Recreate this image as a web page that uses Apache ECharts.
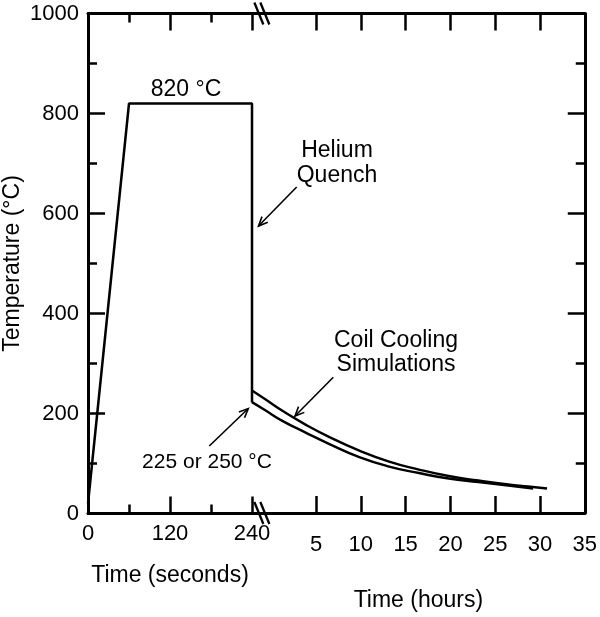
<!DOCTYPE html>
<html><head><meta charset="utf-8">
<script src="https://cdn.jsdelivr.net/npm/echarts@6/dist/echarts.min.js"></script>
<style>html,body{margin:0;padding:0;background:#fff}#c{width:600px;height:617px}</style>
</head><body><div id="c"></div>
<script>
// ---- data ----
const secondsTicks = [0, 120, 240];
const hourTicks = [5, 10, 15, 20, 25, 30, 35];
const tempTicks = [0, 200, 400, 600, 800, 1000];
const heatSeconds = [0, 60, 240, 240];
const heatTemp = [20, 820, 820, 222];
const coilHighHours = [-2.15, -0.71, 1.29, 3.73, 6.50, 9.83, 13.16, 16.48, 19.81, 23.13, 26.46, 28.67, 30.79];
const coilHighTemp  = [245,   228,   204,  178,  152,  125,  103,   87,    74,    65,    57,    53,    49];
const coilLowHours  = [-2.15, -0.71, 1.29, 3.73, 6.50, 9.83, 13.16, 16.48, 19.81, 23.13, 26.46, 29.23];
const coilLowTemp   = [222,   206,   184,  162,  138,  112,   93,    80,    69,    62,    55,    49];

const FONT = '"Liberation Sans", Arial, sans-serif';
const black = '#000';
const zip = (a, b) => a.map((v, i) => [v, b[i]]);

const chart = echarts.init(document.getElementById('c'), null, {renderer: 'canvas'});

const lineStyle = {color: black, width: 3};
const tickStyle = {color: black, width: 2.5};
const lbl = {fontSize: 22, color: black, fontFamily: FONT, formatter: v => String(v)};

function secAxis(pos, showLabel) {
  return {
    type: 'value', gridIndex: 0, position: pos,
    min: secondsTicks[0], max: secondsTicks[secondsTicks.length - 1], interval: 120,
    axisLine: {show: true, onZero: false, lineStyle},
    axisTick: {show: true, inside: true, length: 17, lineStyle: tickStyle},
    minorTick: {show: true, splitNumber: 2, length: 9, lineStyle: tickStyle},
    splitLine: {show: false}, minorSplitLine: {show: false},
    axisLabel: Object.assign({show: showLabel, margin: 9}, lbl)
  };
}
function hourAxis(pos, showLabel) {
  return {
    type: 'value', gridIndex: 1, position: pos, min: -2.15, max: 35,
    axisLine: {show: true, onZero: false, lineStyle},
    axisTick: {show: true, inside: true, length: 17, lineStyle: tickStyle, customValues: hourTicks},
    splitLine: {show: false},
    axisLabel: Object.assign({show: showLabel, margin: 21, customValues: hourTicks}, lbl)
  };
}
function tempAxis(grid, pos, showLabel) {
  return {
    type: 'value', gridIndex: grid, position: pos,
    min: tempTicks[0], max: tempTicks[tempTicks.length - 1], interval: 200,
    axisLine: {show: true, onZero: false, lineStyle},
    axisTick: {show: true, inside: true, length: 17, lineStyle: tickStyle},
    minorTick: {show: true, splitNumber: 2, length: 9, lineStyle: tickStyle},
    splitLine: {show: false}, minorSplitLine: {show: false},
    axisLabel: Object.assign({show: showLabel, margin: 9}, lbl)
  };
}
const nameStyle = {fontSize: 23, color: black, fontFamily: FONT};

const xSecBottom = secAxis('bottom', true);
Object.assign(xSecBottom, {name: 'Time (seconds)', nameLocation: 'middle', nameGap: 51, nameTextStyle: nameStyle});
const xHourBottom = hourAxis('bottom', true);
Object.assign(xHourBottom, {name: 'Time (hours)', nameLocation: 'middle', nameGap: 76, nameTextStyle: nameStyle});
const yLeft = tempAxis(0, 'left', true);
Object.assign(yLeft, {name: 'Temperature (°C)', nameLocation: 'middle', nameGap: 64, nameRotate: 90, nameTextStyle: nameStyle});

const lineSeries = (name, xi, yi, data, w, smooth) => ({
  name, type: 'line', xAxisIndex: xi, yAxisIndex: yi, data,
  showSymbol: false, symbol: 'none', clip: false, smooth,
  lineStyle: {color: black, width: w}, animation: false
});

chart.setOption({
  animation: false,
  backgroundColor: '#fff',
  grid: [
    {left: 88, top: 13.5, width: 164, height: 500},
    {left: 252, top: 13.5, width: 335, height: 500}
  ],
  xAxis: [xSecBottom, secAxis('top', false), xHourBottom, hourAxis('top', false)],
  yAxis: [yLeft, tempAxis(1, 'right', false)],
  series: [
    lineSeries('Heat treatment', 0, 0, zip(heatSeconds, heatTemp), 2.5, false),
    lineSeries('Coil cooling (250 °C)', 2, 1, zip(coilHighHours, coilHighTemp), 2.4, 0.5),
    lineSeries('Coil cooling (225 °C)', 2, 1, zip(coilLowHours, coilLowTemp), 2.4, 0.5)
  ]
});

// ---- annotations ----
function arrow(x1, y1, x2, y2) {
  const a = Math.atan2(y2 - y1, x2 - x1), L = 10, s = 0.42;
  return [
    {type: 'line', shape: {x1, y1, x2, y2}, style: {stroke: black, lineWidth: 1.6}, z: 10},
    {type: 'polyline', shape: {points: [
      [x2 - L * Math.cos(a - s), y2 - L * Math.sin(a - s)], [x2, y2],
      [x2 - L * Math.cos(a + s), y2 - L * Math.sin(a + s)]]},
      style: {stroke: black, lineWidth: 1.6, fill: null}, z: 10}
  ];
}
function txt(text, x, y, size, lh) {
  return {type: 'text', z: 10, style: {text, x, y, align: 'center', verticalAlign: 'middle',
    font: size + 'px ' + FONT, fill: black, lineHeight: lh || size}};
}
function breakMark(cx, cy) {
  return [-3, 3].map(d => ({type: 'line', z: 10,
    shape: {x1: cx + d - 4.5, y1: cy - 11, x2: cx + d + 4.5, y2: cy + 11},
    style: {stroke: black, lineWidth: 2.3}}));
}
const pBot = chart.convertToPixel({xAxisIndex: 2, yAxisIndex: 1}, [-1.05, 0]);
const pTop = chart.convertToPixel({xAxisIndex: 2, yAxisIndex: 1}, [-1.05, 1000]);

chart.setOption({graphic: [
  txt('820 °C', 186, 90, 23),
  txt('Helium\nQuench', 337, 163, 23, 25),
  txt('Coil Cooling\nSimulations', 396, 353, 23, 24),
  txt('225 or 250 °C', 207, 462, 21),
  ...arrow(296.7, 187, 258.5, 226),
  ...arrow(333.3, 377.3, 295, 416),
  ...arrow(209.3, 446, 248.3, 408.5),
  ...breakMark(pBot[0], pBot[1]),
  ...breakMark(pTop[0], pTop[1])
]});
</script></body></html>
